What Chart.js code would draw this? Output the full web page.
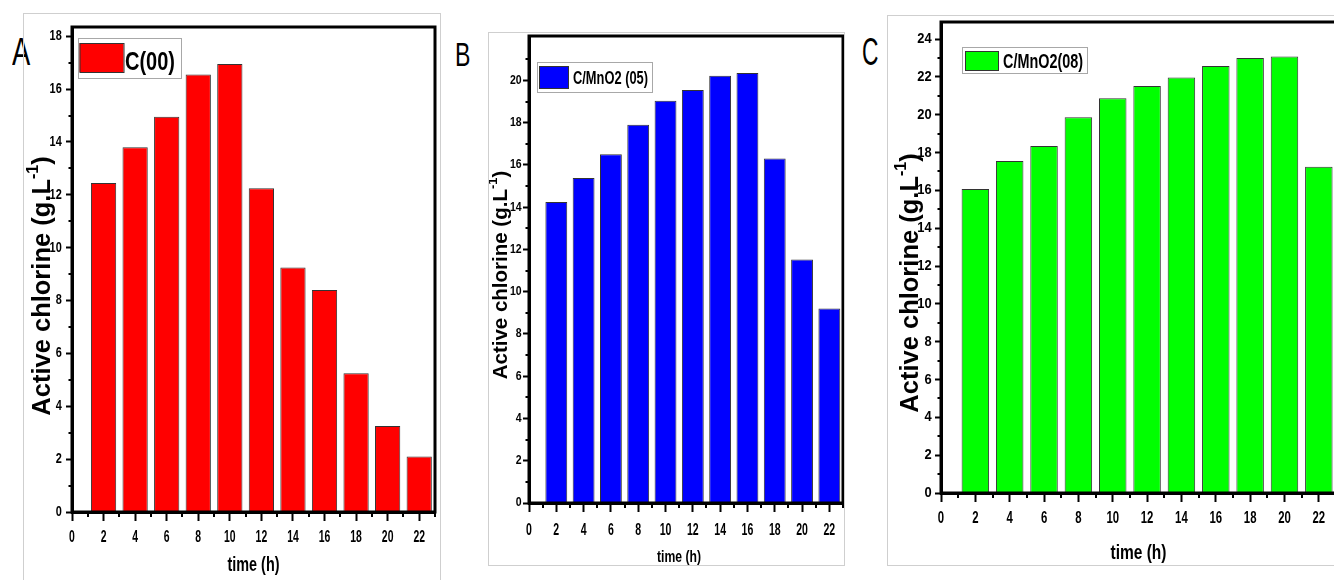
<!DOCTYPE html>
<html>
<head>
<meta charset="utf-8">
<script src="https://cdn.jsdelivr.net/npm/chart.js@4.4.1/dist/chart.umd.min.js"></script>
<style>
  body { margin: 0; width: 1334px; height: 580px; overflow: hidden; background: #fff; position: relative; }
  .frame { position: absolute; border: 1px solid #cfcfcf; box-sizing: border-box; }
  .frame canvas { position: absolute; left: 0; top: 0; }
  .letter { position: absolute; font-family: 'Liberation Sans', Arial, sans-serif; line-height: 1; transform-origin: 0 0; color: #000; }
</style>
</head>
<body>
<div class="letter" style="left:12px;top:33px;font-size:38px;transform:scaleX(0.72)">A</div>
<div class="letter" style="left:455px;top:37px;font-size:34px;transform:scaleX(0.68)">B</div>
<div class="letter" style="left:862px;top:33px;font-size:38px;transform:scaleX(0.6)">C</div>
<div class="frame" style="left:23px;top:13px;width:418px;height:580px"><canvas id="chartA"></canvas></div>
<div class="frame" style="left:488px;top:32px;width:357px;height:534px"><canvas id="chartB"></canvas></div>
<div class="frame" style="left:887px;top:15px;width:470px;height:551px"><canvas id="chartC"></canvas></div>
<script>
// time in hours, one bar every 2 h
const times = [2, 4, 6, 8, 10, 12, 14, 16, 18, 20, 22];
const chlorineA = [12.45, 13.8, 14.95, 16.55, 16.95, 12.25, 9.25, 8.4, 5.25, 3.25, 2.1];
const chlorineB = [14.25, 15.38, 16.5, 17.9, 19.03, 19.55, 20.22, 20.35, 16.3, 11.52, 9.2];
const chlorineC = [16.07, 17.55, 18.35, 19.86, 20.87, 21.52, 21.97, 22.57, 23.0, 23.07, 17.25];

const xTicks = [0, 2, 4, 6, 8, 10, 12, 14, 16, 18, 20, 22];
const yTicksA = [0, 2, 4, 6, 8, 10, 12, 14, 16, 18];
const yTicksB = [0, 2, 4, 6, 8, 10, 12, 14, 16, 18, 20];
const yTicksC = [0, 2, 4, 6, 8, 10, 12, 14, 16, 18, 20, 22, 24];

const labelA = 'C(00)';
const labelB = 'C/MnO2 (05)';
const labelC = 'C/MnO2(08)';
const xTitle = 'time (h)';
const yTitle = ['Active chlorine (g.L', '-1', ')'];

const sans = "'Liberation Sans', Arial, sans-serif";

function minorTicks(ticks, max) {
  const step = ticks[1] - ticks[0];
  return ticks.map(t => t + step / 2).filter(v => v <= max);
}

// squeezed text, the original uses a condensed face
function squeezed(ctx, text, x, y, sx) {
  ctx.save();
  ctx.translate(x, y);
  ctx.scale(sx, 1);
  ctx.fillText(text, 0, 0);
  ctx.restore();
}

function drawPanel(id, values, label, color, yTicks, yMax, g) {
  const canvas = document.getElementById(id);
  canvas.width = g.w;
  canvas.height = g.h;
  canvas.style.width = g.w + 'px';
  canvas.style.height = g.h + 'px';

  const decor = {
    id: 'decor',
    afterDraw(chart) {
      const ctx = chart.ctx, a = chart.chartArea;
      const xs = chart.scales.x, ys = chart.scales.y;
      ctx.save();
      ctx.strokeStyle = '#000';
      ctx.lineWidth = 2;
      ctx.beginPath();
      minorTicks(yTicks, yMax).forEach(v => {
        const p = Math.round(ys.getPixelForValue(v));
        ctx.moveTo(a.left - 3.5, p);
        ctx.lineTo(a.left, p);
      });
      minorTicks(xTicks, 23).forEach(v => {
        const p = Math.round(xs.getPixelForValue(v));
        ctx.moveTo(p, a.bottom);
        ctx.lineTo(p, a.bottom + 5);
      });
      ctx.stroke();
      ctx.lineWidth = 3;
      ctx.strokeRect(a.left, a.top, a.right - a.left, a.bottom - a.top);

      // tick labels
      ctx.fillStyle = '#000';
      ctx.font = 'bold ' + g.yl.fs + 'px ' + sans;
      ctx.textAlign = 'right';
      ctx.textBaseline = 'middle';
      ys.ticks.forEach((t, i) => squeezed(ctx, t.label, a.left - g.yl.off, ys.getPixelForTick(i), g.yl.sx));
      ctx.font = 'bold ' + g.xl.fs + 'px ' + sans;
      ctx.textAlign = 'center';
      ctx.textBaseline = 'alphabetic';
      xs.ticks.forEach((t, i) => squeezed(ctx, t.label, xs.getPixelForTick(i), a.bottom + g.xl.off, g.xl.sx));

      // x axis title
      const xt = g.xTitle;
      ctx.font = 'bold ' + xt.fs + 'px ' + sans;
      ctx.textBaseline = 'middle';
      squeezed(ctx, xTitle, (a.left + a.right) / 2 + xt.dx, xt.y, xt.tw / ctx.measureText(xTitle).width);

      // legend box
      const lg = g.legend;
      ctx.lineWidth = 1;
      ctx.fillStyle = '#fff';
      ctx.strokeStyle = '#a8a8a8';
      ctx.fillRect(a.left + lg.box[0], a.top + lg.box[1], lg.box[2], lg.box[3]);
      ctx.strokeRect(a.left + lg.box[0] + 0.5, a.top + lg.box[1] + 0.5, lg.box[2], lg.box[3]);
      ctx.fillStyle = color;
      ctx.fillRect(a.left + lg.sw[0], a.top + lg.sw[1], lg.sw[2], lg.sw[3]);
      ctx.strokeStyle = '#333';
      ctx.strokeRect(a.left + lg.sw[0] + 0.5, a.top + lg.sw[1] + 0.5, lg.sw[2], lg.sw[3]);
      const text = chart.data.datasets[0].label;
      ctx.font = 'bold ' + lg.fs + 'px ' + sans;
      ctx.fillStyle = '#000';
      ctx.textBaseline = 'middle';
      ctx.textAlign = 'left';
      squeezed(ctx, text, a.left + lg.tx, a.top + lg.ty, lg.tw / ctx.measureText(text).width);

      // y axis title with superscript
      const t = g.yTitle;
      ctx.save();
      ctx.translate(t.x, t.y);
      ctx.rotate(-Math.PI / 2);
      const big = 'bold ' + t.fs + 'px ' + sans;
      const small = 'bold ' + Math.round(t.fs * 0.62) + 'px ' + sans;
      ctx.font = big;
      const w1 = ctx.measureText(yTitle[0]).width, w3 = ctx.measureText(yTitle[2]).width;
      ctx.font = small;
      const w2 = ctx.measureText(yTitle[1]).width;
      const x0 = -(w1 + w2 + w3) / 2;
      ctx.font = big;
      ctx.fillText(yTitle[0], x0, 0);
      ctx.font = small;
      ctx.fillText(yTitle[1], x0 + w1, -t.fs * 0.36);
      ctx.font = big;
      ctx.fillText(yTitle[2], x0 + w1 + w2, 0);
      ctx.restore();
      ctx.restore();
    }
  };

  new Chart(canvas, {
    type: 'bar',
    data: {
      datasets: [{
        label: label,
        data: times.map((t, i) => ({ x: t, y: values[i] })),
        backgroundColor: color,
        borderColor: '#333',
        borderWidth: 1,
        barPercentage: 0.8,
        categoryPercentage: 1
      }]
    },
    options: {
      responsive: false,
      animation: false,
      layout: { padding: { left: 0, top: g.T, right: g.w - g.R, bottom: 0 } },
      plugins: { legend: { display: false }, tooltip: { enabled: false } },
      scales: {
        x: {
          type: 'linear', min: 0, max: 23, offset: false,
          afterFit: s => { s.height = g.h - g.B; },
          afterBuildTicks: s => { s.ticks = xTicks.map(v => ({ value: v })); },
          grid: { offset: false, drawOnChartArea: false, tickLength: 9, tickWidth: 2, tickColor: '#000' },
          border: { display: true, color: '#000', width: 3 },
          ticks: { display: false, autoSkip: false, maxRotation: 0 }
        },
        y: {
          min: 0, max: yMax,
          afterFit: s => { s.width = g.L; },
          afterBuildTicks: s => { s.ticks = yTicks.map(v => ({ value: v })); },
          grid: { drawOnChartArea: false, tickLength: 6, tickWidth: 2, tickColor: '#000' },
          border: { display: true, color: '#000', width: 3 },
          ticks: { display: false, autoSkip: false }
        }
      }
    },
    plugins: [decor]
  });
}

drawPanel('chartA', chlorineA, labelA, '#ff0000', yTicksA, 18.35, {
  w: 415, h: 566, L: 48, T: 13, R: 411, B: 498,
  yl: { fs: 14, sx: 0.78, off: 10.3 }, xl: { fs: 16, sx: 0.65, off: 29.5 },
  xTitle: { fs: 21, tw: 52, y: 551, dx: 0 },
  legend: { box: [6, 11, 103, 40], sw: [7.5, 16, 44, 29], tx: 53, ty: 36, tw: 50, fs: 26 },
  yTitle: { x: 19, y: 272, fs: 25.5 }
});
drawPanel('chartB', chlorineB, labelB, '#0000ff', yTicksB, 22.1, {
  w: 355, h: 532, L: 40, T: 3, R: 354, B: 470,
  yl: { fs: 12.5, sx: 0.84, off: 7.3 }, xl: { fs: 17, sx: 0.62, off: 32 },
  xTitle: { fs: 17, tw: 44, y: 524, dx: -7 },
  legend: { box: [8, 26, 115, 30], sw: [10, 30, 29, 22], tx: 44, ty: 43, tw: 75, fs: 19 },
  yTitle: { x: 12, y: 242, fs: 20.5 }
});
drawPanel('chartC', chlorineC, labelC, '#00ff00', yTicksC, 24.9, {
  w: 452, h: 549, L: 53, T: 6, R: 448, B: 477,
  yl: { fs: 15, sx: 0.86, off: 9.3 }, xl: { fs: 16, sx: 0.71, off: 30.3 },
  xTitle: { fs: 21, tw: 56, y: 537, dx: 0 },
  legend: { box: [21, 25, 125, 26], sw: [24, 29, 33, 19], tx: 62, ty: 40, tw: 80, fs: 20 },
  yTitle: { x: 23, y: 267, fs: 25.5 }
});
</script>
</body>
</html>
